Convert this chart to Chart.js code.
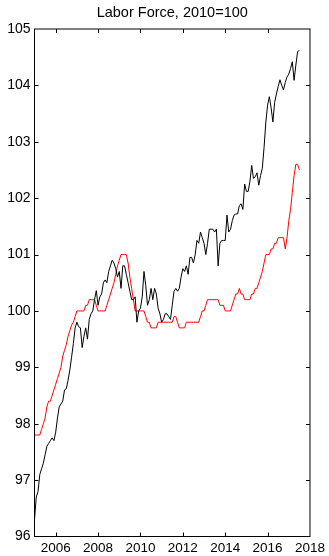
<!DOCTYPE html>
<html>
<head>
<meta charset="utf-8">
<title>Labor Force, 2010=100</title>
<script src="https://cdn.jsdelivr.net/npm/chart.js@4"></script>
<style>
  html, body { margin: 0; padding: 0; background: #fff; }
  #wrap { width: 329px; height: 556px; }
</style>
</head>
<body>
<div id="wrap"><canvas id="chart" width="329" height="556"></canvas></div>
<script>
// Monthly series, starting January 2005 (index 0) through July 2017.
const startYear = 2005;

// Labor force index (2010 = 100), monthly
const laborForce = [
  // 2005
  96.3, 96.7, 96.8, 97.1, 97.2, 97.3, 97.45, 97.6, 97.65, 97.7, 97.75, 97.7,
  // 2006
  97.85, 98.1, 98.3, 98.35, 98.4, 98.6, 98.62, 98.77, 98.95, 99.18, 99.42, 99.7,
  // 2007
  99.8, 99.72, 99.7, 99.35, 99.55, 99.7, 99.5, 99.85, 99.95, 100.0, 100.2, 100.36,
  // 2008
  100.1, 100.25, 100.3, 100.5, 100.55, 100.5, 100.7, 100.8, 100.9, 100.85, 100.75, 100.6,
  // 2009
  100.7, 100.4, 100.8, 100.8, 100.65, 100.5, 100.35, 100.2, 100.2, 100.25, 99.8, 100.0,
  // 2010
  100.05, 100.25, 100.7, 100.45, 100.1, 100.2, 100.4, 100.2, 100.4, 100.3, 100.05, 99.95,
  // 2011
  99.8, 99.85, 99.95, 99.95, 99.9, 99.85, 100.1, 100.35, 100.4, 100.35, 100.4, 100.6,
  // 2012
  100.75, 100.7, 100.8, 100.65, 100.95, 100.95, 100.85, 101.0, 101.25, 101.2, 101.4, 101.3,
  // 2013
  101.2, 101.0, 101.2, 101.45, 101.45, 101.45, 101.4, 101.45, 100.8, 101.2, 101.25, 101.25,
  // 2014
  101.25, 101.7, 101.4, 101.45, 101.6, 101.7, 101.72, 101.72, 101.87, 101.9, 101.8, 102.25,
  // 2015
  102.12, 102.12, 102.3, 102.58, 102.35, 102.38, 102.45, 102.23, 102.4, 102.53, 102.9, 103.35,
  // 2016
  103.65, 103.8, 103.6, 103.35, 103.7, 103.85, 103.98, 104.1, 104.0, 103.92, 104.05, 104.15,
  // 2017
  104.2, 104.3, 104.42, 104.09, 104.36, 104.6, 104.62
];

// Smoothed labor force index (2010 = 100), monthly
const laborForceSmooth = [
  // 2005
  97.8, 97.8, 97.8, 97.8, 97.9, 98.0, 98.1, 98.3, 98.4, 98.4, 98.5, 98.6,
  // 2006
  98.7, 98.8, 98.9, 99.0, 99.2, 99.3, 99.4, 99.55, 99.65, 99.75, 99.8, 99.9,
  // 2007
  100.0, 100.0, 100.0, 100.0, 100.0, 100.1, 100.1, 100.2, 100.2, 100.2, 100.2, 100.1,
  // 2008
  100.0, 100.0, 100.0, 100.0, 100.0, 100.1, 100.2, 100.3, 100.4, 100.5, 100.65, 100.8,
  // 2009
  100.9, 101.0, 101.0, 101.0, 101.0, 100.85, 100.6, 100.4, 100.2, 100.0, 100.0, 100.0,
  // 2010
  100.0, 100.0, 100.0, 99.9, 99.8, 99.8, 99.7, 99.7, 99.7, 99.7, 99.8, 99.8,
  // 2011
  99.8, 99.8, 99.8, 99.8, 99.8, 99.8, 99.8, 99.9, 99.9, 99.8, 99.7, 99.7,
  // 2012
  99.7, 99.7, 99.8, 99.8, 99.8, 99.8, 99.8, 99.8, 99.8, 99.8, 99.9, 100.0,
  // 2013
  100.0, 100.1, 100.2, 100.2, 100.2, 100.2, 100.2, 100.2, 100.2, 100.1, 100.1, 100.1,
  // 2014
  100.0, 100.0, 100.0, 100.0, 100.1, 100.2, 100.3, 100.3, 100.4, 100.3, 100.3, 100.2,
  // 2015
  100.2, 100.2, 100.2, 100.3, 100.3, 100.4, 100.4, 100.5, 100.6, 100.7, 100.85, 101.0,
  // 2016
  101.0, 101.0, 101.1, 101.1, 101.2, 101.2, 101.3, 101.3, 101.3, 101.3, 101.1, 101.3,
  // 2017
  101.6, 101.8, 102.1, 102.4, 102.6, 102.6, 102.5
];

// Axis tick values
const xTickYears = [2006, 2008, 2010, 2012, 2014, 2016, 2018];
const yTickValues = [96, 97, 98, 99, 100, 101, 102, 103, 104, 105];

const titleText = 'Labor Force, 2010=100';
const fontFamily = '"Liberation Sans", Arial, Helvetica, sans-serif';

// Pair each monthly value with its decimal-year position
const toPoints = (values) => values.map((v, i) => ({ x: startYear + i / 12, y: v }));

// Boxed frame with inward-pointing tick marks on all four sides
const framePlugin = {
  id: 'frame',
  afterDraw(chart) {
    const { ctx, chartArea: a, scales: { x, y } } = chart;
    ctx.save();
    ctx.strokeStyle = '#000';
    ctx.lineWidth = 1;
    ctx.strokeRect(a.left, a.top, a.right - a.left, a.bottom - a.top);
    ctx.beginPath();
    xTickYears.forEach(v => {
      if (v <= x.min || v >= x.max) return;
      const px = Math.round(x.getPixelForValue(v)) + 0.5;
      ctx.moveTo(px, a.bottom); ctx.lineTo(px, a.bottom - 4);
      ctx.moveTo(px, a.top); ctx.lineTo(px, a.top + 4);
    });
    yTickValues.forEach(v => {
      if (v <= y.min || v >= y.max) return;
      const py = Math.round(y.getPixelForValue(v)) + 0.5;
      ctx.moveTo(a.left, py); ctx.lineTo(a.left + 4, py);
      ctx.moveTo(a.right, py); ctx.lineTo(a.right - 4, py);
    });
    ctx.stroke();
    ctx.restore();
  }
};

new Chart(document.getElementById('chart'), {
  type: 'line',
  data: {
    datasets: [
      {
        label: 'Labor force',
        data: toPoints(laborForce),
        borderColor: '#000000',
        borderWidth: 1,
        pointRadius: 0,
        tension: 0,
        fill: false
      },
      {
        label: 'Labor force, smoothed',
        data: toPoints(laborForceSmooth),
        borderColor: '#ff0000',
        borderWidth: 1,
        pointRadius: 0,
        tension: 0,
        fill: false
      }
    ]
  },
  options: {
    responsive: false,
    animation: false,
    events: [],
    layout: { padding: { left: 0, right: 17.5, top: 0, bottom: 0 } },
    plugins: {
      legend: { display: false },
      tooltip: { enabled: false },
      title: {
        display: true,
        text: titleText,
        color: '#000',
        fullSize: false,
        font: { family: fontFamily, size: 14.5, weight: 'normal', lineHeight: 1.2 },
        padding: { top: 4.5, bottom: 7.1 }
      }
    },
    scales: {
      x: {
        type: 'linear',
        min: 2005,
        max: 2018,
        grid: { display: false, drawTicks: false },
        border: { display: false },
        afterBuildTicks: s => { s.ticks = xTickYears.map(v => ({ value: v })); },
        afterFit: s => { s.height = 19.5; },
        ticks: {
          color: '#000',
          padding: 4,
          maxRotation: 0,
          autoSkip: false,
          font: { family: fontFamily, size: 13.5 },
          callback: v => String(v)
        }
      },
      y: {
        type: 'linear',
        min: 96,
        max: 105,
        grid: { display: false, drawTicks: false },
        border: { display: false },
        afterBuildTicks: s => { s.ticks = yTickValues.map(v => ({ value: v })); },
        afterFit: s => { s.width = 34.5; },
        ticks: {
          color: '#000',
          padding: 4,
          autoSkip: false,
          font: { family: fontFamily, size: 14 },
          callback: v => String(v)
        }
      }
    }
  },
  plugins: [framePlugin]
});
</script>
</body>
</html>
